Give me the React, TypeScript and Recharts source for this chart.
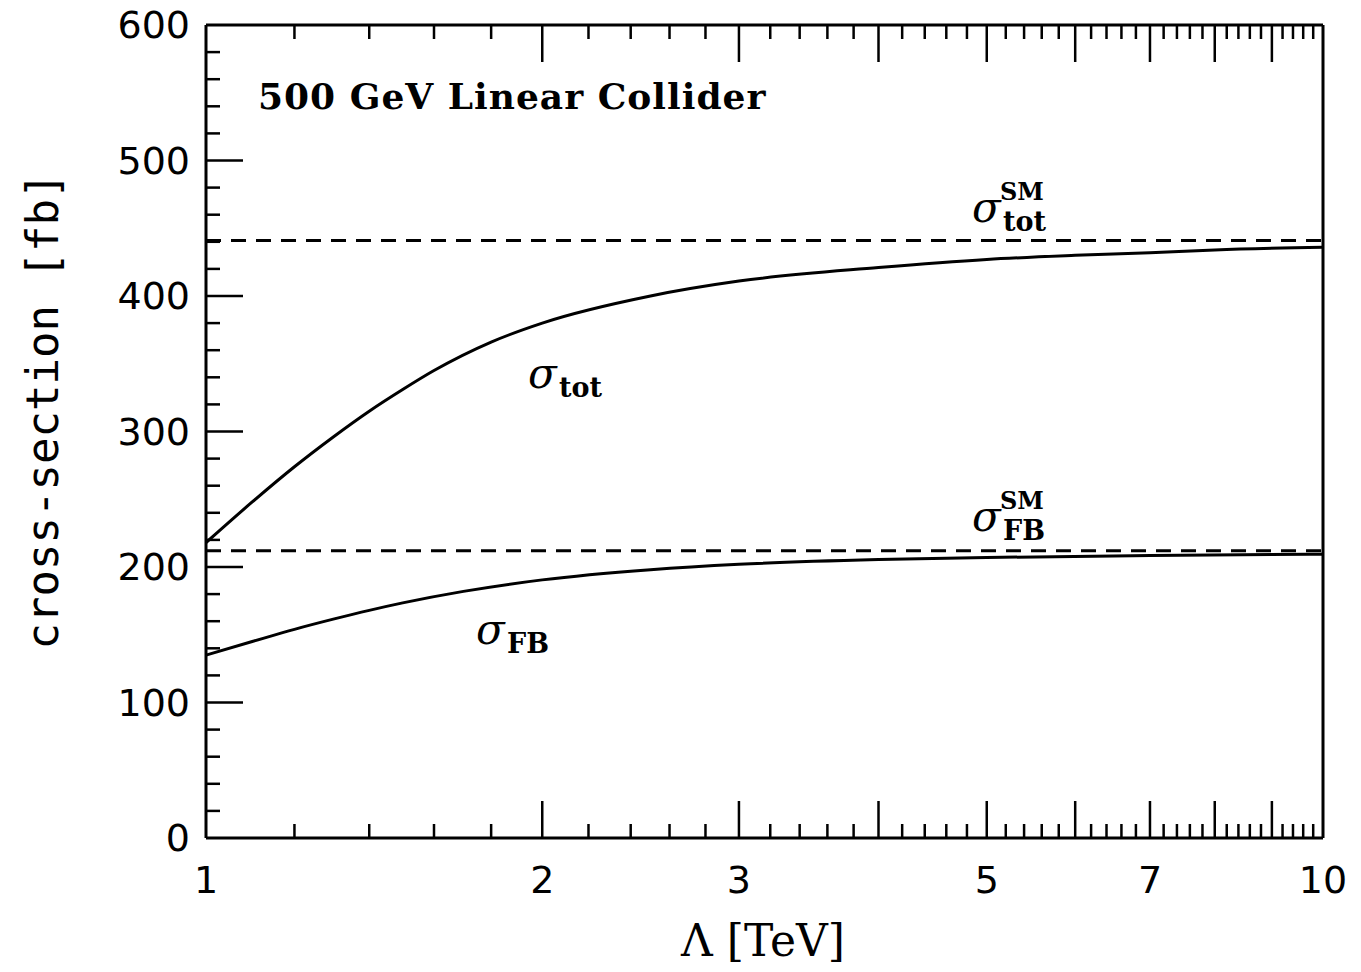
import React from "react";
import {
  LineChart,
  Line,
  XAxis,
  YAxis,
  ReferenceLine,
} from "recharts";

// Lambda [TeV] sample points and cross-sections [fb]
const lambdaTot = [1.0, 1.1, 1.2, 1.3, 1.4, 1.5, 1.6, 1.8, 2.0, 2.5, 3.0, 4.0, 5.0, 6.0, 7.0, 8.0, 10.0];
const sigmaTot = [218, 248, 274, 296, 315, 331, 345, 366, 380, 400, 411, 421, 427, 430, 432, 434, 436];

const lambdaFB = [1.0, 1.1, 1.2, 1.3, 1.4, 1.5, 1.7, 2.0, 2.5, 3.0, 4.0, 5.0, 7.0, 10.0];
const sigmaFB = [135, 145, 154, 161.5, 168, 173.5, 182, 190.5, 198, 202, 205.5, 207, 208.5, 209.5];

// Standard Model reference values
const smTot = 441;
const smFB = 212;

const xLabels = [1, 2, 3, 5, 7, 10];
const xMajor = [2, 3, 4, 5, 6, 7, 8, 9];
const xMinorSteps = [0.2, 0.4, 0.6, 0.8];
const yLabels = [0, 100, 200, 300, 400, 500, 600];

const xTicks: number[] = [1, 10, ...xMajor];
for (let n = 1; n < 10; n++) {
  xMinorSteps.forEach((s) => xTicks.push(+(n + s).toFixed(1)));
}
xTicks.sort((a, b) => a - b);

const yTicks: number[] = [];
for (let v = 0; v <= 600; v += 20) yTicks.push(v);

const totData = lambdaTot.map((x, i) => ({ x, y: sigmaTot[i] }));
const fbData = lambdaFB.map((x, i) => ({ x, y: sigmaFB[i] }));

const W = 1361;
const H = 972;
const MAJOR = 37;
const MINOR = 14;
const numFont = "'DejaVu Sans', sans-serif";
const serif = "'DejaVu Serif', serif";

const XTick = (props: any) => {
  const { x, y, payload, side } = props;
  const v = payload.value;
  const edge = v === 1 || v === 10;
  const len = Number.isInteger(v) ? MAJOR : MINOR;
  const dir = side === "top" ? 1 : -1;
  return (
    <g>
      {!edge && (
        <line x1={x} y1={y} x2={x} y2={y + dir * len} stroke="#000" strokeWidth={2.5} />
      )}
      {side === "bottom" && xLabels.includes(v) && (
        <text x={x} y={y + 55} textAnchor="middle" fontSize={38} fontFamily={numFont} fill="#000">
          {v}
        </text>
      )}
    </g>
  );
};

const YTick = (props: any) => {
  const { x, y, payload, side } = props;
  const v = payload.value;
  const edge = v === 0 || v === 600;
  const len = v % 100 === 0 ? MAJOR : MINOR;
  const dir = side === "left" ? 1 : -1;
  return (
    <g>
      {!edge && (
        <line x1={x} y1={y} x2={x + dir * len} y2={y} stroke="#000" strokeWidth={2.5} />
      )}
      {side === "left" && yLabels.includes(v) && (
        <text x={x - 16} y={y + 13} textAnchor="end" fontSize={38} fontFamily={numFont} fill="#000">
          {v}
        </text>
      )}
    </g>
  );
};

const Sigma = ({ x, y, sup, sub }: { x: number; y: number; sup?: string; sub: string }) => (
  <g>
    <text x={x} y={y} fontSize={42} fontStyle="italic" fontFamily={serif} fill="#000">
      σ
    </text>
    {sup && (
      <text x={x + 28} y={y - 22} fontSize={24} fontWeight="bold" fontFamily={serif} fill="#000">
        {sup}
      </text>
    )}
    <text x={x + 31} y={y + 9} fontSize={27} fontWeight="bold" fontFamily={serif} fill="#000">
      {sub}
    </text>
  </g>
);

export default function App() {
  return (
    <div style={{ position: "absolute", left: 0, top: 0, width: W, height: H, background: "#fff" }}>
      <LineChart
        width={W}
        height={H}
        margin={{ top: 15, right: 28, bottom: 34, left: 106 }}
      >
        <XAxis
          xAxisId="bottom"
          dataKey="x"
          type="number"
          scale="log"
          domain={[1, 10]}
          allowDataOverflow
          ticks={xTicks}
          interval={0}
          tickSize={0}
          tickMargin={0}
          height={100}
          axisLine={{ stroke: "#000", strokeWidth: 3 }}
          tickLine={false}
          tick={<XTick side="bottom" />}
        />
        <XAxis
          xAxisId="top"
          orientation="top"
          dataKey="x"
          type="number"
          scale="log"
          domain={[1, 10]}
          allowDataOverflow
          ticks={xTicks}
          interval={0}
          tickSize={0}
          tickMargin={0}
          height={10}
          axisLine={{ stroke: "#000", strokeWidth: 3 }}
          tickLine={false}
          tick={<XTick side="top" />}
        />
        <YAxis
          yAxisId="left"
          type="number"
          domain={[0, 600]}
          ticks={yTicks}
          interval={0}
          tickSize={0}
          tickMargin={0}
          width={100}
          axisLine={{ stroke: "#000", strokeWidth: 3 }}
          tickLine={false}
          tick={<YTick side="left" />}
        />
        <YAxis
          yAxisId="right"
          orientation="right"
          type="number"
          domain={[0, 600]}
          ticks={yTicks}
          interval={0}
          tickSize={0}
          tickMargin={0}
          width={10}
          axisLine={{ stroke: "#000", strokeWidth: 3 }}
          tickLine={false}
          tick={<YTick side="right" />}
        />
        <ReferenceLine
          xAxisId="bottom"
          yAxisId="left"
          y={smTot}
          stroke="#000"
          strokeWidth={3}
          strokeDasharray="15 10"
        />
        <ReferenceLine
          xAxisId="bottom"
          yAxisId="left"
          y={smFB}
          stroke="#000"
          strokeWidth={3}
          strokeDasharray="15 10"
        />
        <Line
          xAxisId="bottom"
          yAxisId="left"
          data={totData}
          dataKey="y"
          type="monotone"
          stroke="#000"
          strokeWidth={3}
          dot={false}
          isAnimationActive={false}
        />
        <Line
          xAxisId="bottom"
          yAxisId="left"
          data={fbData}
          dataKey="y"
          type="monotone"
          stroke="#000"
          strokeWidth={3}
          dot={false}
          isAnimationActive={false}
        />
      </LineChart>
      <svg
        width={W}
        height={H}
        style={{ position: "absolute", left: 0, top: 0, pointerEvents: "none" }}
      >
        <text
          x={258}
          y={109}
          fontSize={36}
          fontWeight="bold"
          letterSpacing={1}
          fontFamily={serif}
          fill="#000"
        >
          500 GeV Linear Collider
        </text>
        <text
          x={0}
          y={0}
          transform="translate(58 411) rotate(-90)"
          textAnchor="middle"
          fontSize={44}
          fontFamily="'DejaVu Sans Mono', monospace"
          fill="#000"
        >
          cross-section [fb]
        </text>
        <text x={763} y={956} textAnchor="middle" fontSize={44} fontFamily={serif} fill="#000">
          Λ [TeV]
        </text>
        <Sigma x={528} y={388} sub="tot" />
        <Sigma x={476} y={644} sub="FB" />
        <Sigma x={972} y={222} sup="SM" sub="tot" />
        <Sigma x={972} y={531} sup="SM" sub="FB" />
      </svg>
    </div>
  );
}
